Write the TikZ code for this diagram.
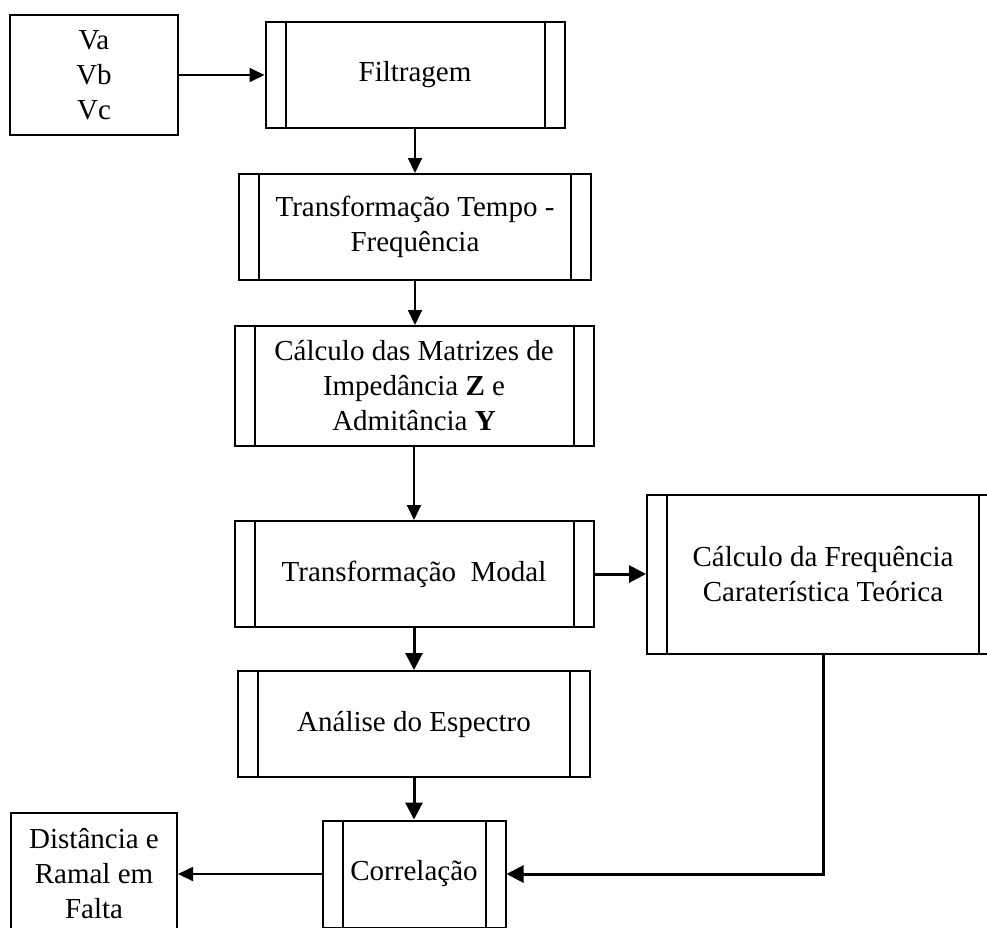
\documentclass[tikz,border=0pt]{standalone}
\usepackage{fontspec}
\setmainfont{Liberation Serif}
\usetikzlibrary{arrows.meta}
\tikzset{
  box/.style={draw, line width=2pt, align=center, inner sep=0pt,
    font=\fontsize{29}{35}\selectfont},
  proc/.style={box, path picture={
    \draw[line width=2pt] ([xshift=20pt]path picture bounding box.north west)
      -- ([xshift=20pt]path picture bounding box.south west);
    \draw[line width=2pt] ([xshift=-20pt]path picture bounding box.north east)
      -- ([xshift=-20pt]path picture bounding box.south east);}},
  flow/.style={line width=1.8pt, -{Triangle[length=15pt,width=14pt]}},
  flowbold/.style={line width=3pt, -{Triangle[length=17pt,width=17pt]}}
}
\begin{document}
\begin{tikzpicture}[x=1pt,y=-1pt]
\useasboundingbox (0,0) rectangle (987,927);
\node[box, minimum width=168pt, minimum height=120pt] (vin) at (94,75) {Va\\Vb\\Vc};
\node[proc, minimum width=299pt, minimum height=106pt] (filt) at (415,75) {Filtragem};
\node[proc, minimum width=352pt, minimum height=106pt] (tf) at (415,227) {Transformação Tempo -\\Frequência};
\node[proc, minimum width=359pt, minimum height=120pt] (mat) at (414,386) {Cálculo das Matrizes de\\Impedância \textbf{Z} e\\Admitância \textbf{Y}};
\node[proc, minimum width=359pt, minimum height=106pt] (modal) at (414,574) {Transformação~~Modal};
\node[proc, minimum width=352pt, minimum height=159pt] (freq) at (823,574) {Cálculo da Frequência\\Caraterística Teórica};
\node[proc, minimum width=352pt, minimum height=106pt] (spec) at (414,724) {Análise do Espectro};
\node[proc, minimum width=183pt, minimum height=107pt] (corr) at (414,874) {Correlação};
\node[box, minimum width=166pt, minimum height=122pt] (out) at (94,874) {Distância e\\Ramal em\\Falta};
\draw[flow] (vin.east) -- (filt.west);
\draw[flow] (filt.south) -- (filt.south |- tf.north);
\draw[flow] (tf.south) -- (tf.south |- mat.north);
\draw[flow] (mat.south) -- (mat.south |- modal.north);
\draw[flowbold] (modal.south) -- (modal.south |- spec.north);
\draw[flowbold] (modal.east) -- (freq.west);
\draw[flowbold] (spec.south) -- (spec.south |- corr.north);
\draw[flowbold] (freq.south) |- (corr.east);
\draw[flow] (corr.west) -- (out.east);
\end{tikzpicture}
\end{document}
